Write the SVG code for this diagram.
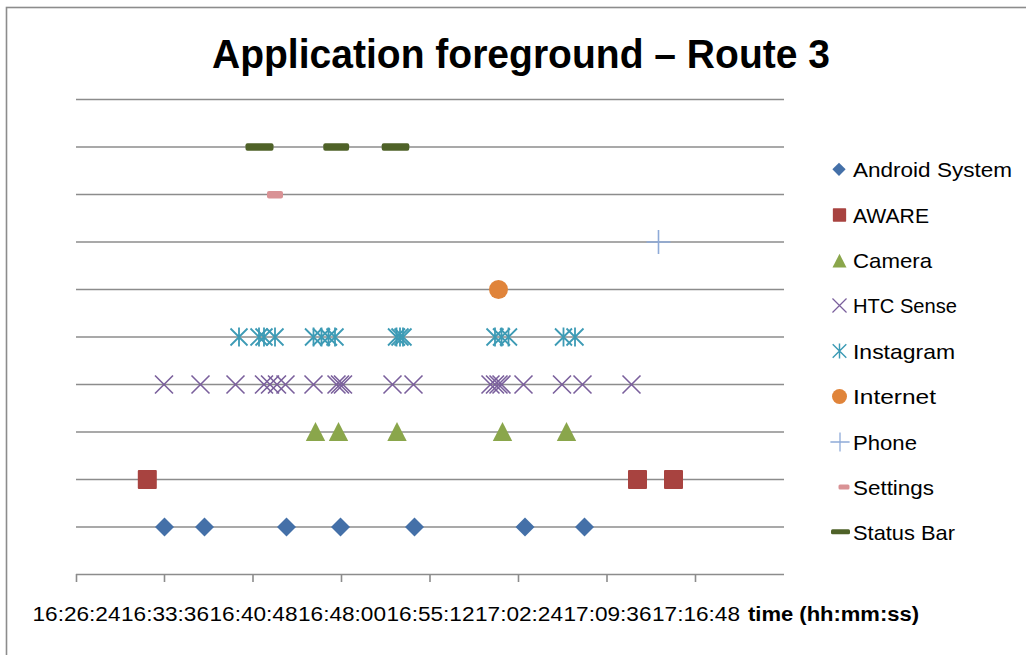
<svg xmlns="http://www.w3.org/2000/svg" xmlns:xlink="http://www.w3.org/1999/xlink" width="1026" height="655" viewBox="0 0 1026 655">
<style>
.grid{stroke:#8c8c8c;stroke-width:1.6;fill:none}
.tick{stroke:#8c8c8c;stroke-width:1.6;fill:none}
.title{font-family:"Liberation Sans",Arial,sans-serif;font-weight:bold;font-size:40px;fill:#000}
.leg{font-family:"Liberation Sans",Arial,sans-serif;font-size:21px;fill:#000}
.xl{font-family:"Liberation Sans",Arial,sans-serif;font-size:20px;fill:#000}
.xt{font-family:"Liberation Sans",Arial,sans-serif;font-size:20px;font-weight:bold;fill:#000}
.and{fill:#4470a8}
.aw{fill:#a84340}
.cam{fill:#8aa64b}
.htc{stroke:#7a5f9c;stroke-width:1.6;fill:none}
.ins{stroke:#3d9bb5;stroke-width:1.8;fill:none}
.int{fill:#e0843a}
.ph{stroke:#8eaad8;stroke-width:1.6;fill:none}
.set{fill:#d99295}
.sb{fill:#4f6228}
</style>
<defs>
<path id="dia" d="M0,-9.5 L9.5,0 L0,9.5 L-9.5,0 Z"/>
<rect id="sq" x="-9.5" y="-9.5" width="19" height="19" rx="1"/>
<path id="tri" d="M0,-10 L9.7,9 L-9.7,9 Z"/>
<path id="xm" d="M-9,-9 L9,9 M-9,9 L9,-9"/>
<path id="ast" d="M-8.5,-8.5 L8.5,8.5 M-8.5,8.5 L8.5,-8.5 M0,-9.5 L0,9.5"/>
<path id="plus" d="M-12,0 L12,0 M0,-12 L0,12"/>
</defs>
<rect x="6.5" y="7.5" width="1030" height="660" fill="#fff" stroke="#8c8c8c" stroke-width="1.6"/>
<text class="title" x="521" y="68" text-anchor="middle" textLength="618" lengthAdjust="spacingAndGlyphs">Application foreground – Route 3</text>
<g id="gridlines">
<line class="grid" x1="76" y1="99.5" x2="784" y2="99.5"/>
<line class="grid" x1="76" y1="147" x2="784" y2="147"/>
<line class="grid" x1="76" y1="194.5" x2="784" y2="194.5"/>
<line class="grid" x1="76" y1="242" x2="784" y2="242"/>
<line class="grid" x1="76" y1="289.5" x2="784" y2="289.5"/>
<line class="grid" x1="76" y1="337" x2="784" y2="337"/>
<line class="grid" x1="76" y1="384.5" x2="784" y2="384.5"/>
<line class="grid" x1="76" y1="432" x2="784" y2="432"/>
<line class="grid" x1="76" y1="479.5" x2="784" y2="479.5"/>
<line class="grid" x1="76" y1="527" x2="784" y2="527"/>
</g>
<g id="xaxis">
<line class="tick" x1="76" y1="574.5" x2="784" y2="574.5"/>
<path class="tick" d="M76.5,574 V582 M164.5,574 V582 M253,574 V582 M341.5,574 V582 M430,574 V582 M518.5,574 V582 M607,574 V582 M695.5,574 V582"/>
<text class="xl" x="76.5" y="621" text-anchor="middle" textLength="88" lengthAdjust="spacingAndGlyphs">16:26:24</text>
<text class="xl" x="165" y="621" text-anchor="middle" textLength="88" lengthAdjust="spacingAndGlyphs">16:33:36</text>
<text class="xl" x="253.5" y="621" text-anchor="middle" textLength="88" lengthAdjust="spacingAndGlyphs">16:40:48</text>
<text class="xl" x="342" y="621" text-anchor="middle" textLength="88" lengthAdjust="spacingAndGlyphs">16:48:00</text>
<text class="xl" x="430.5" y="621" text-anchor="middle" textLength="88" lengthAdjust="spacingAndGlyphs">16:55:12</text>
<text class="xl" x="519" y="621" text-anchor="middle" textLength="88" lengthAdjust="spacingAndGlyphs">17:02:24</text>
<text class="xl" x="607.5" y="621" text-anchor="middle" textLength="88" lengthAdjust="spacingAndGlyphs">17:09:36</text>
<text class="xl" x="696" y="621" text-anchor="middle" textLength="88" lengthAdjust="spacingAndGlyphs">17:16:48</text>
<text class="xt" x="748" y="621" textLength="171" lengthAdjust="spacingAndGlyphs">time (hh:mm:ss)</text>
</g>
<g id="series-android-system" class="and">
<use href="#dia" x="164.5" y="527"/>
<use href="#dia" x="204.5" y="527"/>
<use href="#dia" x="286.5" y="527"/>
<use href="#dia" x="340.5" y="527"/>
<use href="#dia" x="414.5" y="527"/>
<use href="#dia" x="525" y="527"/>
<use href="#dia" x="584.5" y="527"/>
</g>
<g id="series-aware" class="aw">
<use href="#sq" x="147.3" y="479.5"/>
<use href="#sq" x="637.5" y="479.5"/>
<use href="#sq" x="673.5" y="479.5"/>
</g>
<g id="series-camera" class="cam">
<use href="#tri" x="315.5" y="432"/>
<use href="#tri" x="338.5" y="432"/>
<use href="#tri" x="397" y="432"/>
<use href="#tri" x="502.5" y="432"/>
<use href="#tri" x="566.5" y="432"/>
</g>
<g id="series-htc-sense" class="htc">
<use href="#xm" x="164" y="384.5"/>
<use href="#xm" x="200.5" y="384.5"/>
<use href="#xm" x="235.5" y="384.5"/>
<use href="#xm" x="264" y="384.5"/>
<use href="#xm" x="270" y="384.5"/>
<use href="#xm" x="277" y="384.5"/>
<use href="#xm" x="285.5" y="384.5"/>
<use href="#xm" x="313.5" y="384.5"/>
<use href="#xm" x="336.5" y="384.5"/>
<use href="#xm" x="340" y="384.5"/>
<use href="#xm" x="343" y="384.5"/>
<use href="#xm" x="392.5" y="384.5"/>
<use href="#xm" x="413.5" y="384.5"/>
<use href="#xm" x="490.5" y="384.5"/>
<use href="#xm" x="495" y="384.5"/>
<use href="#xm" x="498.5" y="384.5"/>
<use href="#xm" x="501.5" y="384.5"/>
<use href="#xm" x="523.5" y="384.5"/>
<use href="#xm" x="562" y="384.5"/>
<use href="#xm" x="582.5" y="384.5"/>
<use href="#xm" x="631.5" y="384.5"/>
</g>
<g id="series-instagram" class="ins">
<use href="#ast" x="239" y="337"/>
<use href="#ast" x="259" y="337"/>
<use href="#ast" x="264" y="337"/>
<use href="#ast" x="275" y="337"/>
<use href="#ast" x="313.5" y="337"/>
<use href="#ast" x="321.5" y="337"/>
<use href="#ast" x="328.5" y="337"/>
<use href="#ast" x="335" y="337"/>
<use href="#ast" x="396.5" y="337"/>
<use href="#ast" x="400" y="337"/>
<use href="#ast" x="403" y="337"/>
<use href="#ast" x="495" y="337"/>
<use href="#ast" x="501.5" y="337"/>
<use href="#ast" x="508.5" y="337"/>
<use href="#ast" x="563.5" y="337"/>
<use href="#ast" x="575" y="337"/>
</g>
<g id="series-internet" class="int">
<circle cx="498.5" cy="289.5" r="9.5"/>
</g>
<g id="series-phone" class="ph">
<use href="#plus" x="658.5" y="242"/>
</g>
<g id="series-settings" class="set">
<rect x="267" y="191" width="16" height="7.5" rx="2"/>
</g>
<g id="series-status-bar" class="sb">
<rect x="245.5" y="143.3" width="28" height="7.4" rx="2"/>
<rect x="323.3" y="143.3" width="25.8" height="7.4" rx="2"/>
<rect x="381.7" y="143.3" width="27.6" height="7.4" rx="2"/>
</g>
<g id="legend">
<g id="leg-android"><use href="#dia" class="and" transform="translate(839 169.3) scale(0.7)"/><text class="leg" x="853" y="177" textLength="159" lengthAdjust="spacingAndGlyphs">Android System</text></g>
<g id="leg-aware"><use href="#sq" class="aw" transform="translate(839.5 215) scale(0.7)"/><text class="leg" x="853" y="222.5" textLength="76" lengthAdjust="spacingAndGlyphs">AWARE</text></g>
<g id="leg-camera"><use href="#tri" class="cam" transform="translate(839.5 261) scale(0.72)"/><text class="leg" x="853" y="268" textLength="79" lengthAdjust="spacingAndGlyphs">Camera</text></g>
<g id="leg-htc"><use href="#xm" class="htc" transform="translate(839.5 305.5) scale(0.78)"/><text class="leg" x="853" y="313" textLength="104" lengthAdjust="spacingAndGlyphs">HTC Sense</text></g>
<g id="leg-instagram"><use href="#ast" class="ins" transform="translate(839.5 351) scale(0.8)"/><text class="leg" x="853" y="358.5" textLength="102" lengthAdjust="spacingAndGlyphs">Instagram</text></g>
<g id="leg-internet"><circle class="int" cx="839.5" cy="396.5" r="7.5"/><text class="leg" x="853" y="404" textLength="83" lengthAdjust="spacingAndGlyphs">Internet</text></g>
<g id="leg-phone"><use href="#plus" class="ph" transform="translate(840 442) scale(0.8)"/><text class="leg" x="853" y="449.5" textLength="64" lengthAdjust="spacingAndGlyphs">Phone</text></g>
<g id="leg-settings"><rect class="set" x="838.5" y="484.5" width="11" height="5" rx="1.5"/><text class="leg" x="853" y="494.5" textLength="81" lengthAdjust="spacingAndGlyphs">Settings</text></g>
<g id="leg-statusbar"><rect class="sb" x="831" y="529.3" width="19" height="5" rx="1.5"/><text class="leg" x="853" y="539.5" textLength="102" lengthAdjust="spacingAndGlyphs">Status Bar</text></g>
</g>
</svg>
